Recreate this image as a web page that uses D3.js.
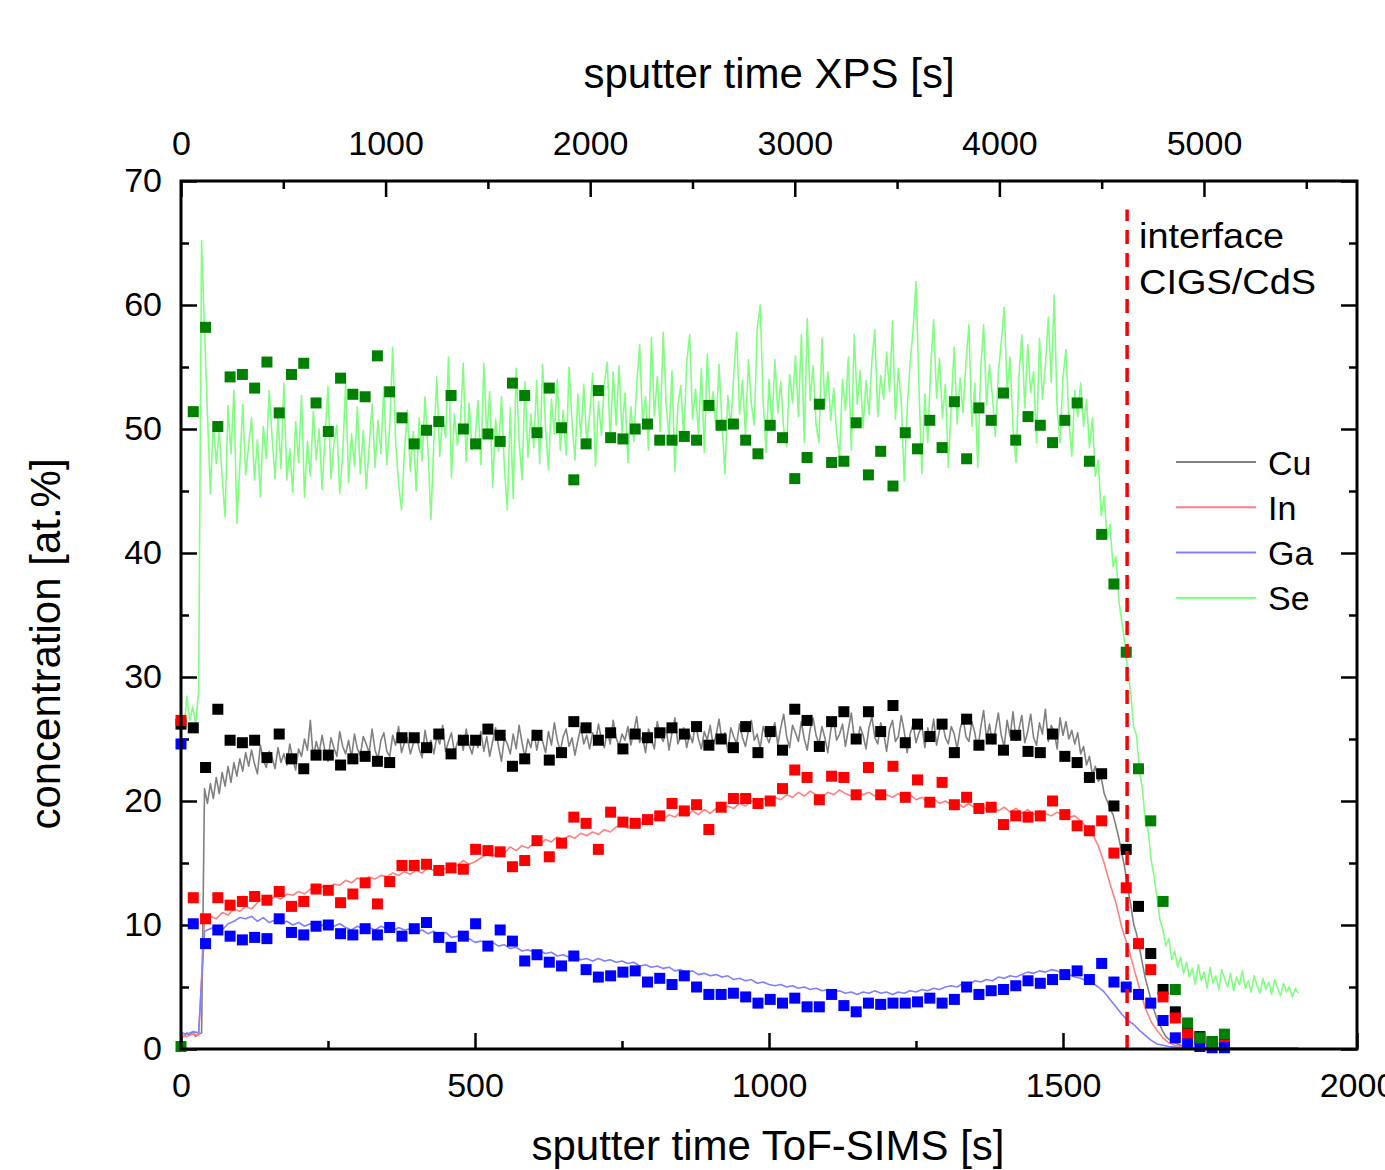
<!DOCTYPE html>
<html lang="en">

<head>
    <meta charset="UTF-8">
    <title>CIGS depth profile</title>
    <script src="https://d3js.org/d3.v7.min.js"></script>
    <style>
        body { margin: 0; background: #fff; }
        text { font-family: "Liberation Sans", Arial, sans-serif; fill: #000; }
        .tick text { font-size: 34px; }
        .tick line { stroke: #000; stroke-width: 2.5px; }
    </style>
</head>

<body>
    <svg width="1385" height="1170" id="svg1"></svg>

    <script>
        // ToF-SIMS profiles, sampled every 5 s (Cu, Se) or 10 s (In, Ga)
        const tofStepFine = 5;
        const tofStepCoarse = 10;

        const tofSe = [
            27.0, 25.8, 28.4, 26.5, 27.6, 26.2, 28.9, 65.2, 58.0, 51.2, 44.8,
            50.6, 47.2, 49.8, 46.1, 42.9, 51.9, 48.0, 53.1, 42.4, 47.0,
            52.0, 46.3, 48.7, 50.9, 45.9, 49.1, 44.5, 50.2, 47.6, 53.1,
            49.3, 46.0, 51.0, 46.8, 53.7, 45.9, 48.4, 44.9, 50.6, 47.3,
            52.7, 44.5, 49.0, 46.2, 51.4, 47.5, 50.0, 45.1, 49.4, 53.4,
            46.0, 48.8, 50.3, 44.8, 47.9, 53.7, 45.7, 49.6, 47.0, 51.8,
            46.4, 49.9, 45.2, 48.5, 52.0, 46.9, 50.7, 48.0, 53.4, 47.1,
            50.2, 56.6, 49.0, 45.6, 43.5, 48.2, 51.5, 46.6, 49.8, 45.0,
            50.9, 47.4, 52.6, 48.3, 42.7, 48.9, 54.2, 47.8, 51.0, 49.3,
            55.8, 46.1, 51.2, 48.7, 50.4, 55.3, 47.4, 52.1, 48.3, 49.0,
            52.3, 47.1, 55.3, 49.4, 53.0, 45.3, 50.8, 48.2, 52.6, 46.9,
            43.5, 51.7, 44.4, 54.9, 49.0, 45.9, 53.8, 47.7, 51.2, 48.5,
            53.9, 47.2, 55.2, 50.1, 46.7, 52.4, 49.6, 54.0, 48.3, 51.5,
            47.9, 55.0, 50.6, 47.5, 52.8, 49.4, 53.6, 48.8, 51.1, 54.5,
            47.0, 52.2, 49.5, 53.7, 55.4, 48.9, 54.6, 50.3, 55.1, 49.7,
            52.9, 47.3, 51.8, 49.0, 53.5, 56.8, 50.4, 52.6, 48.3, 57.4,
            51.0, 54.2, 49.8, 57.8, 52.1, 49.3, 54.7, 46.6, 51.9, 53.5,
            49.2, 55.3, 57.6, 50.8, 53.2, 49.6, 54.9, 48.1, 56.0, 51.4,
            53.0, 49.9, 55.2, 50.5, 46.4, 52.7, 50.1, 54.3, 57.8, 51.2,
            53.9, 49.5, 55.6, 52.0, 50.3, 58.1, 60.0, 52.4, 48.1, 54.0,
            50.2, 55.6, 51.3, 53.8, 50.0, 48.6, 54.4, 52.1, 55.9, 51.0,
            57.6, 48.9, 58.9, 52.3, 55.1, 50.4, 48.9, 57.3, 51.8, 54.6,
            50.7, 53.3, 49.6, 47.8, 54.0, 51.5, 55.8, 48.3, 57.6, 52.0,
            54.7, 50.1, 53.9, 51.2, 55.5, 58.0, 51.0, 54.3, 52.4, 56.2,
            53.0, 58.7, 50.8, 54.9, 52.2, 45.8, 51.6, 55.3, 57.9, 61.9,
            53.4, 46.4, 52.8, 48.9, 55.0, 58.8, 52.5, 55.7, 50.9, 53.6,
            46.9, 52.0, 56.6, 50.4, 54.1, 51.3, 55.4, 58.4, 50.2, 53.7,
            46.9, 54.8, 58.4, 51.9, 55.2, 52.6, 49.4, 54.5, 57.0, 59.8,
            53.1, 55.8, 50.0, 47.3, 54.2, 57.6, 51.7, 56.8, 52.9, 54.6,
            48.9, 57.3, 52.4, 55.0, 59.0, 53.8, 60.8, 51.6, 48.9, 54.2,
            56.4, 50.7, 47.8, 53.1, 51.0, 53.7,
            50.2, 52.4, 48.5, 50.9, 46.2, 47.5, 43.0, 44.6, 41.2, 42.3,
            38.9, 39.7, 36.1, 34.5, 32.8, 30.4, 28.9, 26.0, 25.3, 22.4,
            21.0, 18.3, 17.6, 15.2, 13.9, 12.1, 10.4, 9.6, 8.3, 8.9,
            7.2, 7.9, 6.6, 7.4, 6.1, 7.0, 5.8, 6.5,
            5.2, 6.8, 5.5, 6.2, 4.9, 6.6, 5.3, 5.9, 4.8, 6.4,
            5.6, 5.0, 6.1, 4.7, 5.8, 5.2, 6.3, 4.9, 5.5, 4.6,
            5.9, 5.1, 4.5, 5.7, 4.8, 5.4, 4.4, 5.6, 4.9, 4.3,
            5.3, 4.6, 5.0, 4.2, 4.9, 4.5
        ];

        const tofCu = [
            1.2, 1.0, 1.3, 1.1, 1.4, 1.0, 1.2, 1.3, 21.0,
            19.8, 21.4, 20.2, 21.9, 20.6, 22.3, 21.2, 22.8, 21.5, 23.1, 22.0, 23.4,
            22.4, 23.9, 22.8, 24.1, 23.0, 22.2, 24.5, 23.3, 22.7, 24.0,
            23.5, 22.6, 24.3, 23.1, 23.8, 22.9, 24.6, 23.4, 22.5, 24.2,
            23.6, 25.0, 24.1, 26.5, 23.4, 24.8, 23.9, 25.3, 24.0, 23.2,
            25.1, 24.3, 23.6, 25.6, 24.4, 23.8, 24.9, 23.5, 25.4, 24.2,
            23.7, 25.2, 24.6, 23.9, 25.8, 24.1, 23.4, 24.9, 25.5, 24.0,
            23.6, 25.3, 24.5, 26.0, 23.9, 24.7, 25.1, 23.8, 24.6, 25.4,
            24.2, 23.5, 25.7, 24.4, 24.9, 23.8, 25.2, 24.6, 26.1, 24.0,
            24.8, 25.5, 23.9, 24.7, 25.3, 24.1, 25.8, 24.5, 23.8, 25.0,
            24.3, 25.6, 24.0, 25.2, 23.6, 24.8, 25.9, 24.4, 23.2, 25.1,
            24.6, 23.8, 25.4, 24.2, 26.1, 24.7, 23.5, 25.0, 24.3, 25.7,
            24.1, 25.3, 24.8, 23.9, 25.6, 24.5, 26.3, 24.9, 24.0, 25.2,
            25.8, 24.4, 25.1, 23.7, 24.9, 26.0, 24.6, 25.3, 24.2, 25.5,
            24.8, 26.2, 25.0, 24.3, 25.7, 24.6, 26.5, 25.1, 24.4, 25.4,
            24.9, 26.0, 24.5, 25.6, 26.8, 24.7, 25.2, 23.9, 25.8, 25.0,
            24.2, 26.4, 25.3, 24.8, 25.9, 24.1, 25.5, 26.7, 24.6, 25.2,
            25.9, 24.3, 25.4, 24.7, 26.3, 25.0, 24.2, 25.6, 24.9, 26.1,
            24.5, 25.3, 26.6, 24.8, 25.5, 24.0, 25.9, 25.2, 24.6, 26.2,
            25.1, 24.4, 25.7, 26.5, 24.9, 25.4, 24.2, 26.0, 25.3, 24.7,
            25.6, 26.3, 24.5, 25.9, 27.0, 25.2, 24.3, 26.1, 25.5, 24.8,
            26.4, 25.0, 24.1, 25.8, 26.7, 25.3, 24.6, 26.0, 25.1, 23.9,
            25.7, 26.6, 24.9, 25.4, 26.2, 24.4, 25.8, 27.1, 25.0, 24.7,
            26.0, 25.3, 24.2, 25.9, 26.8, 25.1, 24.6, 26.3, 25.5, 24.0,
            25.8, 26.5, 24.8, 25.2, 26.9, 25.6, 23.9, 25.4, 26.2, 24.7,
            25.5, 26.1, 24.3, 25.9, 25.0, 26.6, 24.5, 25.7, 26.3, 25.1,
            24.6, 26.0, 25.4, 24.2, 25.8, 26.7, 25.2, 24.8, 26.4, 25.5,
            24.1, 25.9, 27.3, 25.0, 26.2, 24.6, 25.7, 27.1, 25.3, 24.4,
            26.5, 25.2, 27.2, 24.9, 25.8, 26.9, 24.7, 25.6, 27.0, 25.1,
            24.5, 26.3, 25.4, 27.4, 24.8, 26.1, 25.6, 24.2, 26.7, 25.3,
            26.4, 25.0, 25.7,
            24.6, 25.5, 23.8, 24.4, 22.9, 23.6, 22.1, 22.8, 21.6,
            21.9, 20.6, 20.0, 19.4, 18.9, 18.0, 17.0, 15.8, 14.6, 13.0,
            11.7, 10.1, 9.3, 8.2, 6.9, 5.7, 4.8, 3.9, 3.1, 2.4,
            1.9, 1.4, 1.0, 0.8, 0.6, 0.5, 0.4, 0.3, 0.25, 0.2, 0.15, 0.12,
            0.1, 0.1, 0.1, 0.1, 0.1, 0.1, 0.1, 0.1, 0.1, 0.1, 0.1, 0.1,
            0.1, 0.1, 0.1, 0.1, 0.1, 0.1, 0.1, 0.1, 0.1, 0.1, 0.1, 0.1,
            0.1, 0.1, 0.1, 0.1, 0.1, 0.1, 0.1, 0.1, 0.1, 0.1, 0.1, 0.1
        ];

        const tofIn = [
            1.1, 1.0, 1.2, 1.1, 10.4,
            10.7, 10.5, 11.0, 10.8, 11.3, 11.1,
            11.5, 11.3, 11.8, 12.2, 11.9, 12.3, 12.1, 12.5, 12.4, 12.7,
            12.5, 12.9, 12.6, 13.1, 12.9, 13.3, 13.2, 13.6, 13.4, 13.8,
            13.6, 13.9, 13.7, 14.0, 13.9, 14.2, 14.0, 14.3, 14.1, 14.4,
            14.2, 14.6, 14.4, 14.7, 14.5, 14.9, 14.8, 15.2, 14.9, 15.1,
            15.4, 15.7, 15.5, 16.0, 15.8, 16.3, 16.0, 16.4, 16.2, 16.6,
            16.5, 16.9, 16.7, 17.1, 16.9, 17.2, 17.0, 17.4, 17.2, 17.5,
            17.3, 17.7, 17.5, 17.9, 18.1, 17.8, 18.3, 18.1, 18.5, 18.4,
            18.7, 18.5, 18.9, 18.7, 19.1, 18.8, 19.2, 18.9, 19.3, 19.0,
            19.4, 19.2, 19.6, 19.4, 19.8, 19.6, 20.0, 19.8, 20.2, 20.0,
            20.3, 20.1, 20.5, 20.3, 20.7, 20.4, 20.8, 20.5, 20.3, 20.7,
            20.5, 20.9, 20.6, 20.4, 20.8, 20.5, 20.7, 20.4, 20.8, 20.5,
            20.3, 20.6, 20.2, 20.5, 20.1, 20.3, 19.9, 20.2, 19.8, 20.0,
            19.7, 19.9, 19.5, 19.8, 19.4, 19.7, 19.3, 19.6, 19.2, 19.5,
            19.1, 19.4, 19.0, 19.3, 18.9, 19.2, 19.0, 18.8, 19.1, 18.9,
            18.7, 18.8, 18.4, 17.9, 17.3, 16.4, 15.0, 13.3, 11.8, 9.8,
            8.3, 6.6, 4.9, 3.3, 2.2, 1.5, 0.9, 0.5, 0.3, 0.2,
            0.1, 0.1, 0.1, 0.1, 0.1, 0.1, 0.1, 0.1, 0.1, 0.1,
            0.1, 0.1, 0.1, 0.1, 0.1, 0.1, 0.1, 0.1, 0.1, 0.1
        ];

        const tofGa = [
            1.3, 1.2, 1.4, 1.3, 9.5,
            9.7, 9.9, 9.6, 10.1, 10.3, 10.6,
            10.5, 10.7, 10.3, 10.6, 10.2, 10.4, 10.1, 10.3, 10.0, 10.2,
            9.9, 10.1, 9.8, 10.0, 9.7, 9.9, 10.1, 9.8, 9.6, 9.9,
            9.7, 9.8, 9.6, 9.9, 9.7, 9.5, 9.8, 9.6, 9.7, 9.4,
            9.6, 9.3, 9.5, 9.2, 9.4, 9.0, 9.1, 8.8, 8.9, 8.6,
            8.7, 8.5, 8.6, 8.3, 8.4, 8.1, 8.2, 7.9, 8.0, 7.8,
            7.9, 7.7, 7.8, 7.5, 7.6, 7.4, 7.5, 7.2, 7.3, 7.1,
            7.3, 7.1, 7.2, 7.0, 7.1, 6.9, 7.0, 6.7, 6.8, 6.6,
            6.7, 6.5, 6.6, 6.3, 6.4, 6.2, 6.3, 6.0, 6.1, 5.9,
            6.0, 5.8, 5.9, 5.6, 5.7, 5.5, 5.6, 5.3, 5.4, 5.2,
            5.1, 5.2, 5.0, 5.1, 4.9, 5.0, 4.8, 4.9, 4.7, 4.8,
            4.6, 4.7, 4.5, 4.6, 4.4, 4.6, 4.5, 4.7, 4.5, 4.6,
            4.4, 4.6, 4.5, 4.7, 4.6, 4.8, 4.7, 4.9, 4.8, 5.0,
            5.1, 5.0, 5.3, 5.2, 5.5, 5.4, 5.6, 5.5, 5.8, 5.7,
            5.9, 5.8, 6.0, 6.2, 6.1, 6.3, 6.2, 6.4, 6.3, 6.1,
            6.0, 5.8, 5.7, 5.5, 5.3, 5.0, 4.6, 4.0, 3.4, 2.8,
            2.3, 2.0, 1.5, 1.1, 0.7, 0.4, 0.3, 0.2, 0.15, 0.1,
            0.1, 0.1, 0.1, 0.1, 0.1, 0.1, 0.1, 0.1, 0.1, 0.1,
            0.1, 0.1, 0.1, 0.1, 0.1, 0.1, 0.1, 0.1, 0.1, 0.1
        ];

        // XPS points, one every 60 s of XPS sputter time
        const xpsStep = 60;

        const xpsCu = [
            26.2, 25.9, 22.7, 27.4, 24.9, 24.7, 24.9, 23.5, 25.4, 23.4, 22.6,
            23.7, 23.7, 22.9, 23.4, 23.6, 23.2, 23.1, 25.1, 25.1, 24.3,
            25.4, 23.8, 24.9, 24.9, 25.8, 25.3, 22.8, 23.4, 25.3, 23.3,
            23.9, 26.4, 25.9, 24.9, 25.5, 24.2, 25.4, 25.1, 25.5, 25.9,
            25.4, 26.0, 24.5, 25.0, 24.3, 26.0, 23.9, 25.6, 24.1, 27.4,
            26.5, 24.4, 26.4, 27.2, 25.0, 27.2, 25.6, 27.7, 24.7, 26.2,
            25.2, 26.2, 23.9, 26.6, 24.5, 25.0, 24.1, 25.3, 24.0, 23.9,
            25.4, 23.6, 23.1, 21.9, 22.2, 19.6, 16.1, 11.5, 7.7, 4.8,
            3.0, 1.6, 1.0, 0.6, 0.4
        ];

        const xpsIn = [
            26.5, 12.2, 10.5, 12.2, 11.6, 11.9, 12.3, 12.0, 12.7, 11.5, 11.9,
            12.9, 12.8, 11.8, 12.5, 13.4, 11.7, 13.5, 14.8, 14.8, 14.9,
            14.4, 14.6, 14.5, 16.1, 16.0, 15.9, 14.7, 15.2, 16.8, 15.5,
            16.6, 18.7, 18.2, 16.1, 19.1, 18.3, 18.2, 18.5, 18.8, 19.8,
            19.2, 19.7, 17.7, 19.5, 20.2, 20.2, 19.8, 20.0, 21.0, 22.5,
            21.9, 20.1, 22.0, 21.9, 20.5, 22.7, 20.5, 22.8, 20.3, 21.7,
            19.9, 21.5, 19.7, 20.3, 19.4, 19.5, 18.1, 18.8, 18.7, 18.8,
            20.0, 18.9, 18.0, 17.6, 18.4, 15.8, 13.0, 8.5, 6.4, 4.2,
            2.5, 1.2, 0.8, 0.5, 0.3
        ];

        const xpsGa = [
            24.6, 10.1, 8.5, 9.6, 9.1, 8.8, 9.0, 8.9, 10.5, 9.4, 9.2,
            9.9, 10.0, 9.3, 9.2, 9.7, 9.2, 9.8, 9.1, 9.7, 10.2,
            9.0, 8.2, 9.1, 10.1, 8.3, 9.6, 8.7, 7.1, 7.6, 7.0,
            6.7, 7.5, 6.4, 5.8, 5.9, 6.2, 6.3, 5.4, 5.7, 5.2,
            5.9, 5.0, 4.4, 4.4, 4.5, 4.2, 3.7, 4.0, 3.7, 4.1,
            3.4, 3.4, 4.4, 3.5, 3.0, 3.7, 3.6, 3.7, 3.7, 3.8,
            4.1, 3.7, 4.0, 5.0, 4.4, 4.7, 4.8, 5.1, 5.5, 5.3,
            5.6, 6.0, 6.3, 5.6, 6.9, 5.4, 5.0, 4.4, 3.7, 2.3,
            0.9, 0.4, 0.2, 0.1, 0.1
        ];

        const xpsSe = [
            0.2, 51.4, 58.2, 50.2, 54.2, 54.4, 53.3, 55.4, 51.3, 54.4, 55.3,
            52.1, 49.8, 54.1, 52.8, 52.6, 55.9, 53.0, 50.9, 48.8, 49.9,
            50.6, 52.7, 50.0, 48.8, 49.6, 49.0, 53.7, 52.7, 49.7, 53.3,
            50.1, 45.9, 48.8, 53.1, 49.3, 49.2, 50.0, 50.4, 49.1, 49.1,
            49.4, 49.1, 51.9, 50.3, 50.4, 49.1, 48.0, 50.3, 49.3, 46.0,
            47.7, 52.0, 47.3, 47.4, 50.5, 46.3, 48.2, 45.4, 49.7, 48.4,
            50.7, 48.5, 52.2, 47.6, 51.7, 50.7, 52.9, 49.1, 51.0, 50.3,
            48.9, 50.7, 52.1, 47.4, 41.5, 37.5, 32.0, 22.6, 18.4, 11.9,
            4.8, 2.1, 0.9, 0.6, 1.2
        ];

        const elements = ['Cu', 'In', 'Ga', 'Se'];

        // axis ranges and ticks
        const tofMax = 2000;
        const xpsMax = 5748;
        const yMax = 70;
        const tofTicks = [0, 500, 1000, 1500, 2000];
        const tofMinor = [250, 750, 1250, 1750];
        const xpsTicks = [0, 1000, 2000, 3000, 4000, 5000];
        const xpsMinor = [500, 1500, 2500, 3500, 4500, 5500];
        const yTicks = [0, 10, 20, 30, 40, 50, 60, 70];
        const yMinor = [5, 15, 25, 35, 45, 55, 65];

        // interface CIGS/CdS, in ToF-SIMS time
        const interfaceTime = 1609;
        const interfaceTop = 67.7;

        const lineColor = { Cu: '#808080', In: '#ff8080', Ga: '#8080ff', Se: '#80ff80' };
        const pointColor = { Cu: '#000000', In: '#ff0000', Ga: '#0000ff', Se: '#008000' };

        const svg = d3.select('#svg1');
        const width = +svg.attr('width');
        const height = +svg.attr('height');

        const margin = { top: 181, right: 28, bottom: 121, left: 181 };
        const innerWidth = width - margin.left - margin.right;
        const innerHeight = height - margin.top - margin.bottom;

        const x = d3.scaleLinear().domain([0, tofMax]).range([0, innerWidth]);
        const xTop = d3.scaleLinear().domain([0, xpsMax]).range([0, innerWidth]);
        const y = d3.scaleLinear().domain([0, yMax]).range([innerHeight, 0]);

        const g = svg.append('g')
            .attr('transform', `translate(${margin.left}, ${margin.top})`);

        const noDomain = sel => sel.select('.domain').remove();
        const noText = sel => sel.selectAll('text').remove();
        const fmt = d3.format('d');

        // ticks point inwards on all four sides
        g.append('g').attr('transform', `translate(0,${innerHeight})`)
            .call(d3.axisBottom(x).tickValues(tofMinor).tickSize(-8)).call(noDomain).call(noText);
        g.append('g').attr('transform', `translate(0,${innerHeight})`)
            .call(d3.axisBottom(x).tickValues(tofTicks).tickSize(-16).tickPadding(24).tickFormat(fmt)).call(noDomain);
        g.append('g')
            .call(d3.axisTop(xTop).tickValues(xpsMinor).tickSize(-8)).call(noDomain).call(noText);
        g.append('g')
            .call(d3.axisTop(xTop).tickValues(xpsTicks).tickSize(-16).tickPadding(26).tickFormat(fmt)).call(noDomain);
        g.append('g')
            .call(d3.axisLeft(y).tickValues(yMinor).tickSize(-8)).call(noDomain).call(noText);
        g.append('g')
            .call(d3.axisLeft(y).tickValues(yTicks).tickSize(-16).tickPadding(19).tickFormat(fmt)).call(noDomain);
        g.append('g').attr('transform', `translate(${innerWidth},0)`)
            .call(d3.axisRight(y).tickValues(yMinor).tickSize(-8)).call(noDomain).call(noText);
        g.append('g').attr('transform', `translate(${innerWidth},0)`)
            .call(d3.axisRight(y).tickValues(yTicks).tickSize(-16)).call(noDomain).call(noText);

        // ToF-SIMS lines
        const tofSeries = [
            { key: 'Cu', values: tofCu, step: tofStepFine },
            { key: 'In', values: tofIn, step: tofStepCoarse },
            { key: 'Ga', values: tofGa, step: tofStepCoarse },
            { key: 'Se', values: tofSe, step: tofStepFine }
        ];

        tofSeries.forEach(s => {
            const line = d3.line()
                .x((d, i) => x(i * s.step))
                .y(d => y(d));
            g.append('path')
                .datum(s.values)
                .attr('fill', 'none')
                .attr('stroke', lineColor[s.key])
                .attr('stroke-width', 1.6)
                .attr('stroke-linejoin', 'round')
                .attr('d', line);
        });

        // XPS squares
        const xpsSeries = [
            { key: 'Cu', values: xpsCu },
            { key: 'In', values: xpsIn },
            { key: 'Ga', values: xpsGa },
            { key: 'Se', values: xpsSe }
        ];
        const sq = 11;

        xpsSeries.forEach(s => {
            g.append('g')
                .selectAll('rect')
                .data(s.values)
                .enter()
                .append('rect')
                .attr('x', (d, i) => xTop(i * xpsStep) - sq / 2)
                .attr('y', d => y(d) - sq / 2)
                .attr('width', sq)
                .attr('height', sq)
                .attr('fill', pointColor[s.key]);
        });

        // interface marker
        g.append('line')
            .attr('x1', x(interfaceTime)).attr('x2', x(interfaceTime))
            .attr('y1', y(0)).attr('y2', y(interfaceTop))
            .attr('stroke', '#ff0000')
            .attr('stroke-width', 3.5)
            .attr('stroke-dasharray', '14,9');

        g.append('text')
            .attr('x', x(interfaceTime) + 12).attr('y', 67)
            .attr('font-size', 35)
            .attr('textLength', 145)
            .attr('lengthAdjust', 'spacingAndGlyphs')
            .text('interface');
        g.append('text')
            .attr('x', x(interfaceTime) + 12).attr('y', 113)
            .attr('font-size', 35)
            .attr('textLength', 177)
            .attr('lengthAdjust', 'spacingAndGlyphs')
            .text('CIGS/CdS');

        // frame
        g.append('rect')
            .attr('width', innerWidth)
            .attr('height', innerHeight)
            .attr('fill', 'none')
            .attr('stroke', '#000')
            .attr('stroke-width', 3);

        // legend
        const legend = g.append('g')
            .attr('transform', `translate(${995}, ${281})`);

        elements.forEach((key, i) => {
            legend.append('line')
                .attr('x1', 0).attr('x2', 80)
                .attr('y1', i * 45.3).attr('y2', i * 45.3)
                .attr('stroke', lineColor[key])
                .attr('stroke-width', 2);
            legend.append('text')
                .attr('x', 92).attr('y', i * 45.3 + 12.5)
                .attr('font-size', 34)
                .text(key);
        });

        // axis titles
        svg.append('text')
            .attr('x', 769).attr('y', 88)
            .attr('text-anchor', 'middle')
            .attr('font-size', 42)
            .text('sputter time XPS [s]');

        svg.append('text')
            .attr('x', 768).attr('y', 1160)
            .attr('text-anchor', 'middle')
            .attr('font-size', 42)
            .text('sputter time ToF-SIMS [s]');

        svg.append('text')
            .attr('transform', 'translate(60, 644) rotate(-90)')
            .attr('text-anchor', 'middle')
            .attr('font-size', 42)
            .text('concentration [at.%]');
    </script>
</body>

</html>
